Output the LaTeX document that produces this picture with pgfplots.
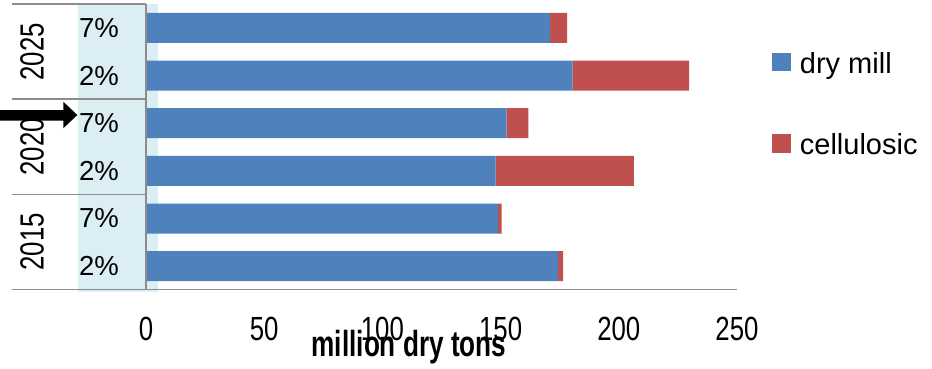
\documentclass[border=0pt]{standalone}
\usepackage{fontspec}
\setmainfont{Liberation Sans}
\newfontfamily\tickfont{Liberation Sans}[FakeStretch=0.77]
\newfontfamily\titlefont{Liberation Sans}[FakeStretch=0.72]
\usepackage{pgfplots}
\pgfplotsset{compat=1.18}
\definecolor{drymill}{HTML}{4F81BD}
\definecolor{cellulosic}{HTML}{C0504D}
\definecolor{band}{HTML}{DAEEF3}
\definecolor{rulegray}{HTML}{8C8C8C}

\begin{document}
\begin{tikzpicture}
\begin{scope}[x=1bp,y=1bp]
  \path[use as bounding box] (0,0) rectangle (932,368);
  % shaded column behind the percentage labels
  \fill[band] (78,76.3) rectangle (157.7,364);
\end{scope}

\begin{axis}[
  at={(146bp,78bp)}, anchor=south west,
  width=591bp, height=286bp, scale only axis,
  xbar stacked, bar width=30bp,
  xmin=0, xmax=250, ymin=-0.5, ymax=5.5,
  axis line style={draw=none},
  major tick length=0pt,
  xtick={0,50,...,250},
  xticklabels={0,50,100,150,200,250},
  xticklabel style={font=\tickfont\fontsize{33.5bp}{40bp}\selectfont,
    anchor=north, inner sep=0pt, yshift=-26.5bp},
  ytick={0,...,5},
  yticklabels={2\%,7\%,2\%,7\%,2\%,7\%},
  yticklabel style={font=\fontsize{27.5bp}{33bp}\selectfont,
    anchor=center, inner sep=0pt, xshift=-47bp},
  clip=false,
  legend image code/.code={\fill[#1] (0bp,-8bp) rectangle (18.7bp,10.7bp);},
  legend style={at={(rel axis cs:1.0592,0.8325)}, anchor=north west,
    draw=none, fill=none, inner sep=0pt,
    nodes={inner sep=0pt}, column sep=9bp, row sep=58.7bp,
    font=\fontsize{29bp}{35bp}\selectfont},
  legend cell align=left,
]
% index 0..5 = 2015 2%, 2015 7%, 2020 2%, 2020 7%, 2025 2%, 2025 7%
\addplot[fill=drymill, draw=none] coordinates
  {(174.3,0) (148.9,1) (147.9,2) (152.5,3) (180.5,4) (170.9,5)};
\addplot[fill=cellulosic, draw=none] coordinates
  {(2.1,0) (1.5,1) (58.5,2) (9.2,3) (49.2,4) (7.2,5)};
\legend{dry mill, cellulosic}
\end{axis}

\begin{scope}[x=1bp,y=1bp]
  % table rules and axis lines
  \draw[rulegray, line width=1.5] (12,364) -- (146,364);
  \draw[rulegray, line width=1.5] (12,269) -- (146,269);
  \draw[rulegray, line width=1.5] (12,173.7) -- (146,173.7);
  \draw[rulegray, line width=1.5] (12,78.3) -- (737,78.3);
  \draw[rulegray, line width=1.5] (146,78.3) -- (146,364);
  % year labels
  \foreach \yy/\lab in {316.3/2025, 221.3/2020, 126.3/2015}
    \node[rotate=90, inner sep=0pt, font=\tickfont\fontsize{33.5bp}{40bp}\selectfont]
      at (32,\yy) {\lab};
  % arrow pointing at the 2020 7% row
  \fill[black] (0,258) -- (63.3,258) -- (63.3,266.3) -- (77.3,253)
    -- (63.3,239.7) -- (63.3,247.3) -- (0,247.3) -- cycle;
  % x axis title
  \node[anchor=base, inner sep=0pt,
    font=\titlefont\bfseries\fontsize{36.3bp}{44bp}\selectfont]
    at (409,11.3) {million dry tons};
\end{scope}
\end{tikzpicture}
\end{document}
